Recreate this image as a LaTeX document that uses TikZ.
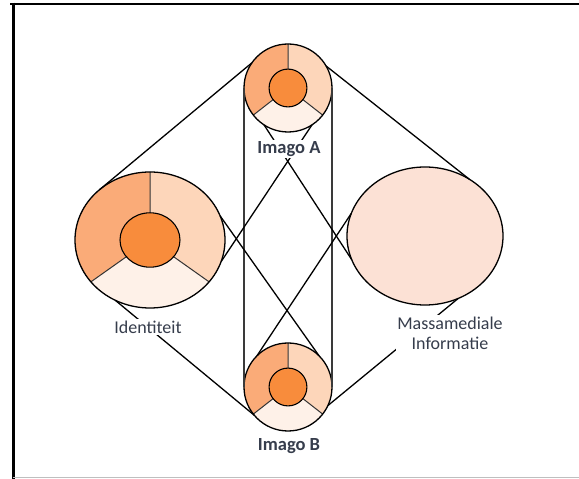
\documentclass[tikz,border=0pt]{standalone}
\usepackage{fontspec}
\setmainfont{Carlito}
\usetikzlibrary{shapes.geometric}

\definecolor{segdark}{HTML}{FAAB78}
\definecolor{seglight}{HTML}{FDD6BA}
\definecolor{segpale}{HTML}{FEF1E8}
\definecolor{corefill}{HTML}{F88C3C}
\definecolor{mediafill}{HTML}{FCE1D5}
\definecolor{labeltext}{HTML}{363D4C}
\definecolor{rail}{HTML}{3A3A3A}

% three-part ring with an inner core: centre x, centre y, x radius, y radius, core ratio
\newcommand\ringparts[5]{%
  \begin{scope}[shift={(#1,#2)}, xscale=#3, yscale=#4]
    \fill[segdark] (90:1) arc[start angle=90, end angle=218, radius=1]
      -- (218:#5) arc[start angle=218, end angle=90, radius=#5] -- cycle;
    \fill[segpale] (218:1) arc[start angle=218, end angle=322, radius=1]
      -- (322:#5) arc[start angle=322, end angle=218, radius=#5] -- cycle;
    \fill[seglight] (-38:1) arc[start angle=-38, end angle=90, radius=1]
      -- (90:#5) arc[start angle=90, end angle=-38, radius=#5] -- cycle;
    \draw[divider] (90:#5) -- (90:1) (218:#5) -- (218:1) (322:#5) -- (322:1);
    \filldraw[fill=corefill, draw=black, line width=1.1pt] (0,0) circle[radius=#5];
  \end{scope}}

\begin{document}
\begin{tikzpicture}[x=1pt, y=1pt,
  divider/.style={draw=black!80, line width=1pt},
  ringnode/.style={ellipse, draw=black, line width=1.3pt, inner sep=0pt, outer sep=0pt},
  link/.style={draw=black, line width=1.3pt},
  railline/.style={draw=rail, line width=2.4pt},
  lbl/.style={fill=white, text=labeltext, inner sep=1.5pt,
    font=\fontsize{18}{20}\selectfont},
  lblbold/.style={lbl, font=\fontsize{18.5}{20}\selectfont\bfseries}]

  \useasboundingbox (0,0) rectangle (579,479);
  \fill[white] (0,0) rectangle (579,479);

  % page frame
  \draw[black, line width=2.6pt] (10,475) -- (579,475);
  \draw[black, line width=3pt] (13,476.3) -- (13,0);
  \draw[black!25, line width=1pt] (13,1) -- (579,1);

  % ring fills
  \ringparts{288}{391}{44}{44}{0.43}
  \ringparts{288}{92}{44}{44}{0.43}
  \ringparts{150}{239}{75}{68}{0.40}
  \fill[mediafill] (425,243) ellipse[x radius=78, y radius=69];

  % outlines, used as connection anchors
  \node[ringnode, minimum width=88pt, minimum height=88pt] (ima) at (288,391) {};
  \node[ringnode, minimum width=88pt, minimum height=88pt] (imb) at (288,92) {};
  \node[ringnode, minimum width=150pt, minimum height=136pt] (idn) at (150,239) {};
  \node[ringnode, minimum width=156pt, minimum height=138pt] (mmi) at (425,243) {};

  % vertical rails between the two imago rings
  \draw[railline] (ima.west) -- (imb.west);
  \draw[railline] (ima.east) -- (imb.east);

  % outer connectors
  \draw[link] (idn.135) -- (ima.145);
  \draw[link] (ima.30) -- (mmi.52);
  \draw[link] (idn.240) -- (imb.220);
  \draw[link] (imb.-25) -- (mmi.-62);

  % crossing connectors
  \draw[link] (idn.-17) -- (ima.-57);
  \draw[link] (idn.19) -- (imb.45);
  \draw[link] (mmi.198) -- (ima.237);
  \draw[link] (mmi.163) -- (imb.135);

  % labels
  \node[lblbold] (la) at (289,330) {Imago A};
  \node[lblbold] (lb) at (289,33) {Imago B};
  \node[lbl] (li) at (148,152) {Identiteit};
  \node[lbl, align=center] (lm) at (450,146) {Massamediale\\Informatie};
\end{tikzpicture}
\end{document}
